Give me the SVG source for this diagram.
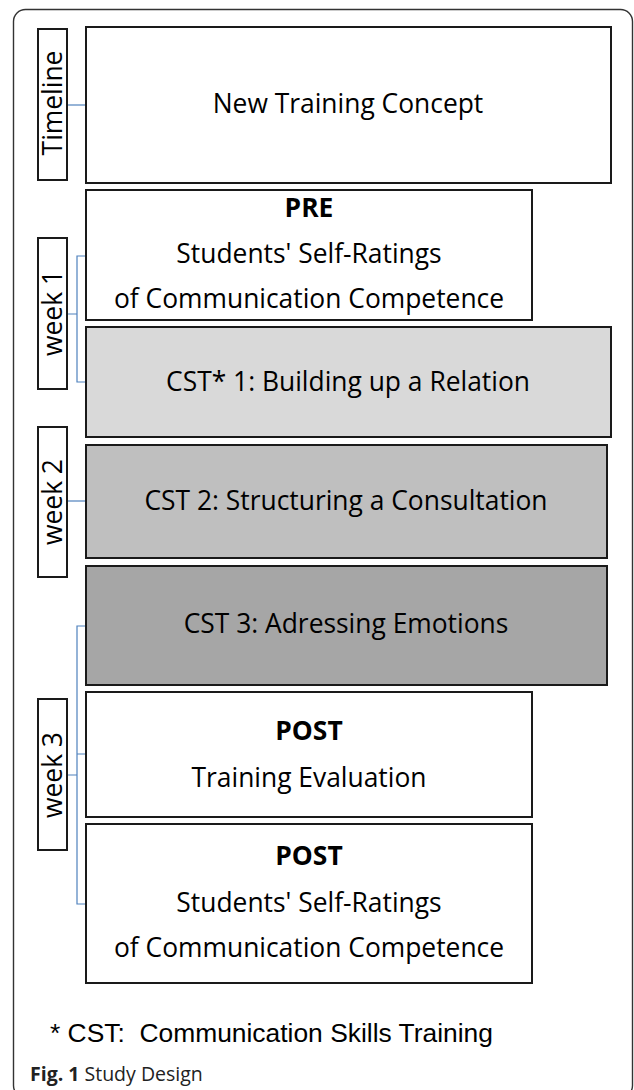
<svg xmlns="http://www.w3.org/2000/svg" width="634" height="1090" viewBox="0 0 634 1090">
<style>
.box{stroke:#1a1a1a;stroke-width:2;}
.lbl{fill:#fff;stroke:#1a1a1a;stroke-width:2;}
.t{font-family:"Open Sans","Noto Sans",sans-serif;font-size:26.4px;fill:#000;text-anchor:middle;}
.b{font-weight:bold;}
.con{stroke:#4f81bd;stroke-width:1.2;fill:none;}
</style>
<rect x="13.5" y="9.5" width="619" height="1088" rx="12" fill="#fff" stroke="#333" stroke-width="1.4"/>
<g id="connectors">
<path class="con" d="M67,105H86"/>
<path class="con" d="M67,314H77M86,256H77V382H86"/>
<path class="con" d="M67,501H86"/>
<path class="con" d="M67,775H77M86,626H77V904H86M77,754H86"/>
</g>
<g id="timeline">
<rect class="lbl" x="38" y="29" width="29" height="151"/>
<text class="t" transform="translate(62,103) rotate(-90)">Timeline</text>
</g>
<g id="week1">
<rect class="lbl" x="38" y="238" width="29" height="151"/>
<text class="t" transform="translate(62,313) rotate(-90)">week 1</text>
</g>
<g id="week2">
<rect class="lbl" x="38" y="427" width="29" height="150"/>
<text class="t" transform="translate(62,502) rotate(-90)">week 2</text>
</g>
<g id="week3">
<rect class="lbl" x="38" y="699" width="29" height="151"/>
<text class="t" transform="translate(62,775) rotate(-90)">week 3</text>
</g>
<g id="new-training-concept">
<rect class="box" x="86" y="27" width="525" height="156" fill="#fff"/>
<text class="t" x="348" y="113">New Training Concept</text>
</g>
<g id="pre">
<rect class="box" x="86" y="190" width="446" height="130" fill="#fff"/>
<text class="t b" x="309" y="217">PRE</text>
<text class="t" x="309" y="263">Students' Self-Ratings</text>
<text class="t" x="309" y="308">of Communication Competence</text>
</g>
<g id="cst1">
<rect class="box" x="86" y="327" width="525" height="110" fill="#d9d9d9"/>
<text class="t" x="348" y="391">CST* 1: Building up a Relation</text>
</g>
<g id="cst2">
<rect class="box" x="86" y="445" width="521" height="113" fill="#bfbfbf"/>
<text class="t" x="346" y="510">CST 2: Structuring a Consultation</text>
</g>
<g id="cst3">
<rect class="box" x="86" y="566" width="521" height="119" fill="#a6a6a6"/>
<text class="t" x="346" y="633">CST 3: Adressing Emotions</text>
</g>
<g id="post-evaluation">
<rect class="box" x="86" y="692" width="446" height="125" fill="#fff"/>
<text class="t b" x="309" y="740">POST</text>
<text class="t" x="309" y="787">Training Evaluation</text>
</g>
<g id="post-self-ratings">
<rect class="box" x="86" y="824" width="446" height="159" fill="#fff"/>
<text class="t b" x="309" y="865">POST</text>
<text class="t" x="309" y="912">Students' Self-Ratings</text>
<text class="t" x="309" y="957">of Communication Competence</text>
</g>
<text x="50" y="1042" font-family="'Liberation Sans',Arial,sans-serif" font-size="26.4" fill="#000" xml:space="preserve" style="white-space:pre">* CST:  Communication Skills Training</text>
<text x="30" y="1081" font-family="'Open Sans','Noto Sans',sans-serif" font-size="19.5" fill="#222" xml:space="preserve" style="white-space:pre"><tspan font-weight="bold">Fig. 1</tspan> Study Design</text>
</svg>
